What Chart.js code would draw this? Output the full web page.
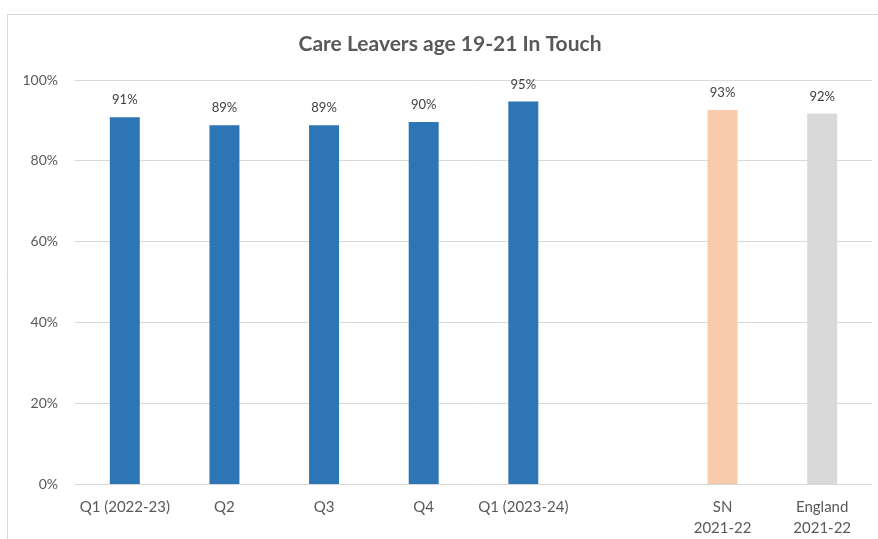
<!DOCTYPE html>
<html>
<head>
<meta charset="utf-8">
<script src="https://cdn.jsdelivr.net/npm/chart.js@4/dist/chart.umd.min.js"></script>
<style>
html,body{margin:0;padding:0;background:#fff;}
#wrap{width:878px;height:539px;position:relative;}
</style>
</head>
<body>
<div id="wrap"><canvas id="c" width="878" height="539"></canvas></div>
<script>
const categories = ["Q1 (2022-23)", "Q2", "Q3", "Q4", "Q1 (2023-24)", "", ["SN", "2021-22"], ["England", "2021-22"]];
const values = [90.8, 88.8, 88.8, 89.6, 94.7, null, 92.6, 91.7];
const barColors = ["#2E75B6", "#2E75B6", "#2E75B6", "#2E75B6", "#2E75B6", "#2E75B6", "#F8CBAD", "#D9D9D9"];
const yTicks = [0, 20, 40, 60, 80, 100];
const titleText = "Care Leavers age 19-21 In Touch";

const FONT = "Lato, 'Open Sans', sans-serif";

const frame = {
  id: 'frame',
  beforeDraw(chart) {
    const ctx = chart.ctx;
    ctx.save();
    ctx.fillStyle = '#fff';
    ctx.fillRect(0, 0, chart.width, chart.height);
    ctx.strokeStyle = '#D9D9D9';
    ctx.lineWidth = 1;
    ctx.beginPath();
    ctx.moveTo(7.5, chart.height);
    ctx.lineTo(7.5, 14.5);
    ctx.lineTo(chart.width, 14.5);
    ctx.stroke();
    ctx.restore();
  },
  afterDraw(chart) {
    const ctx = chart.ctx;
    ctx.save();
    ctx.font = "bold 21px " + FONT;
    ctx.fillStyle = '#595959';
    ctx.textAlign = 'center';
    ctx.textBaseline = 'middle';
    ctx.fillText(titleText, 450, 44);
    ctx.restore();
  }
};

const dataLabels = {
  id: 'dataLabels',
  afterDatasetsDraw(chart) {
    const ctx = chart.ctx;
    const meta = chart.getDatasetMeta(0);
    ctx.save();
    ctx.font = "13px " + FONT;
    ctx.fillStyle = '#404040';
    ctx.textAlign = 'center';
    ctx.textBaseline = 'middle';
    meta.data.forEach((bar, i) => {
      const v = values[i];
      if (v === null || v === undefined) return;
      ctx.fillText(Math.round(v) + '%', bar.x, bar.y - 17);
    });
    ctx.restore();
  }
};

new Chart(document.getElementById('c'), {
  type: 'bar',
  data: {
    labels: categories,
    datasets: [{
      data: values,
      backgroundColor: barColors,
      borderWidth: 0,
      barPercentage: 0.301,
      categoryPercentage: 1.0
    }]
  },
  options: {
    responsive: false,
    animation: false,
    devicePixelRatio: 1,
    layout: { padding: { left: 0, right: 6, top: 80, bottom: 0 } },
    plugins: {
      legend: { display: false },
      tooltip: { enabled: false },
      title: { display: false }
    },
    scales: {
      x: {
        grid: { display: false, drawTicks: false },
        border: { display: false },
        ticks: {
          color: '#595959',
          font: { family: FONT, size: 15, lineHeight: 1.4 },
          padding: 12,
          maxRotation: 0,
          autoSkip: false
        },
        afterFit(scale) { scale.height = 54.5; }
      },
      y: {
        min: 0,
        max: 100,
        afterBuildTicks(scale) { scale.ticks = yTicks.map(v => ({ value: v })); },
        grid: { color: '#D9D9D9', drawTicks: false, lineWidth: 1 },
        border: { display: false },
        ticks: {
          color: '#595959',
          font: { family: FONT, size: 14 },
          padding: 17,
          callback: v => v + '%'
        },
        afterFit(scale) { scale.width = 75; }
      }
    }
  },
  plugins: [frame, dataLabels]
});
</script>
</body>
</html>
